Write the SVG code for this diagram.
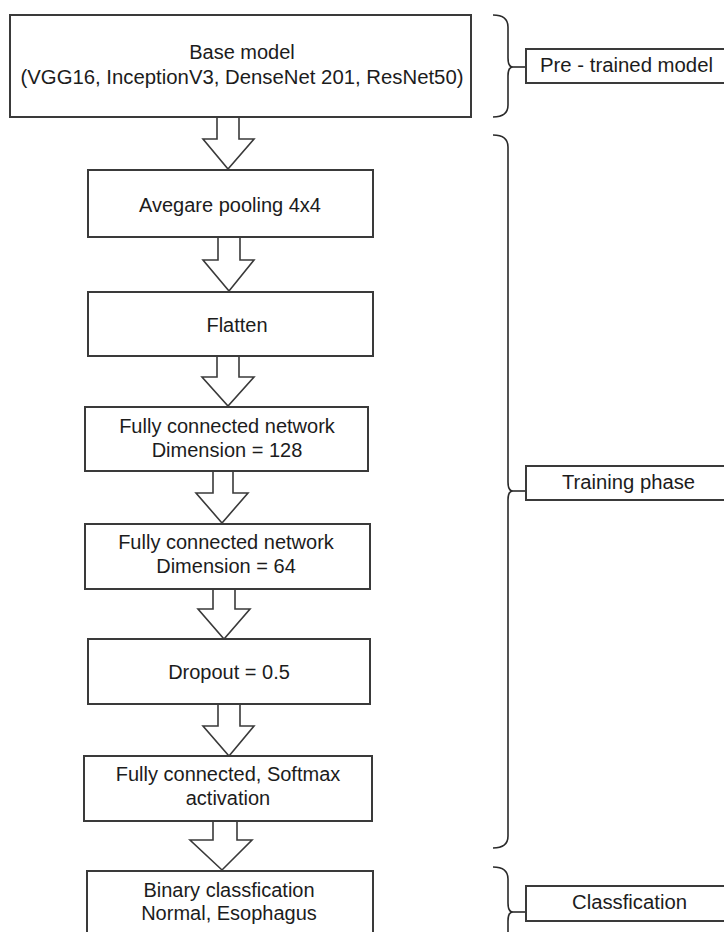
<svg xmlns="http://www.w3.org/2000/svg" width="724" height="932" viewBox="0 0 724 932">
  <style>
    .box { fill: #ffffff; stroke: #3a3a3a; stroke-width: 2; }
    .arrow { fill: #ffffff; stroke: #3a3a3a; stroke-width: 1.6; stroke-linejoin: miter; }
    .brace { fill: none; stroke: #2a2a2a; stroke-width: 1.6; }
    .txt { font-family: "Liberation Sans", Arial, sans-serif; font-size: 20px; fill: #1c1c1c; text-anchor: middle; }
    .lbl { font-family: "Liberation Sans", Arial, sans-serif; font-size: 20px; fill: #1c1c1c; text-anchor: start; }
  </style>
  <rect width="724" height="932" fill="#ffffff"/>

  <!-- block arrows between stages -->
  <g id="connectors">
    <path class="arrow" d="M217,117 V139 H203 L228,169 L254,139 H239 V117"/>
    <path class="arrow" d="M218,237 V260 H203 L229,291 L254,260 H240 V237"/>
    <path class="arrow" d="M217,356 V377 H202 L228,406 L254,377 H239 V356"/>
    <path class="arrow" d="M213,471 V493 H196 L222,523 L248,493 H233 V471"/>
    <path class="arrow" d="M213,589 V609 H198 L224,639 L250,609 H235 V589"/>
    <path class="arrow" d="M218,704 V726 H203 L229,756 L254,726 H240 V704"/>
    <path class="arrow" d="M213,821 V840 H190 L222,870 L252,840 H237 V821"/>
  </g>

  <g id="base-model">
    <rect class="box" x="10" y="15" width="461" height="102"/>
    <text class="txt" x="242" y="59">Base model</text>
    <text class="txt" x="242" y="84" textLength="443" lengthAdjust="spacingAndGlyphs">(VGG16, InceptionV3, DenseNet 201, ResNet50)</text>
  </g>

  <g id="avg-pooling">
    <rect class="box" x="88" y="170" width="285" height="67"/>
    <text class="txt" x="230" y="212">Avegare pooling 4x4</text>
  </g>

  <g id="flatten">
    <rect class="box" x="88" y="292" width="285" height="64"/>
    <text class="txt" x="237" y="332">Flatten</text>
  </g>

  <g id="fc-128">
    <rect class="box" x="85" y="407" width="283" height="64"/>
    <text class="txt" x="227" y="433">Fully connected network</text>
    <text class="txt" x="227" y="457">Dimension = 128</text>
  </g>

  <g id="fc-64">
    <rect class="box" x="85" y="524" width="285" height="65"/>
    <text class="txt" x="226" y="549">Fully connected network</text>
    <text class="txt" x="226" y="573">Dimension = 64</text>
  </g>

  <g id="dropout">
    <rect class="box" x="88" y="639" width="282" height="65"/>
    <text class="txt" x="229" y="679">Dropout = 0.5</text>
  </g>

  <g id="softmax">
    <rect class="box" x="84" y="756" width="288" height="65"/>
    <text class="txt" x="228" y="781">Fully connected, Softmax</text>
    <text class="txt" x="228" y="805">activation</text>
  </g>

  <g id="binary-classification">
    <rect class="box" x="87" y="871" width="286" height="70"/>
    <text class="txt" x="229" y="897">Binary classfication</text>
    <text class="txt" x="229" y="920">Normal, Esophagus</text>
  </g>

  <!-- phase braces with their labels -->
  <g id="pretrained-phase">
    <path class="brace" d="M493,15 Q508,15 508,27 V58 Q508,67 513,67 Q508,67 508,76 V105 Q508,117 493,117"/>
    <line class="brace" x1="513" y1="67" x2="526" y2="67"/>
    <rect class="box" x="526" y="49" width="210" height="34"/>
    <text class="lbl" x="540" y="72" textLength="173" lengthAdjust="spacingAndGlyphs">Pre - trained model</text>
  </g>

  <g id="training-phase">
    <path class="brace" d="M493,135 Q508,135 508,147 V482 Q508,491 513,491 Q508,491 508,500 V836 Q508,848 493,848"/>
    <line class="brace" x1="513" y1="491" x2="526" y2="491"/>
    <rect class="box" x="526" y="466" width="210" height="34"/>
    <text class="lbl" x="562" y="489" textLength="133" lengthAdjust="spacingAndGlyphs">Training phase</text>
  </g>

  <g id="classification-phase">
    <path class="brace" d="M493,867 Q508,867 508,879 V903 Q508,912 513,912 Q508,912 508,921 V945"/>
    <line class="brace" x1="513" y1="912" x2="526" y2="912"/>
    <rect class="box" x="526" y="886" width="210" height="35"/>
    <text class="lbl" x="572" y="909" textLength="115" lengthAdjust="spacingAndGlyphs">Classfication</text>
  </g>
</svg>
